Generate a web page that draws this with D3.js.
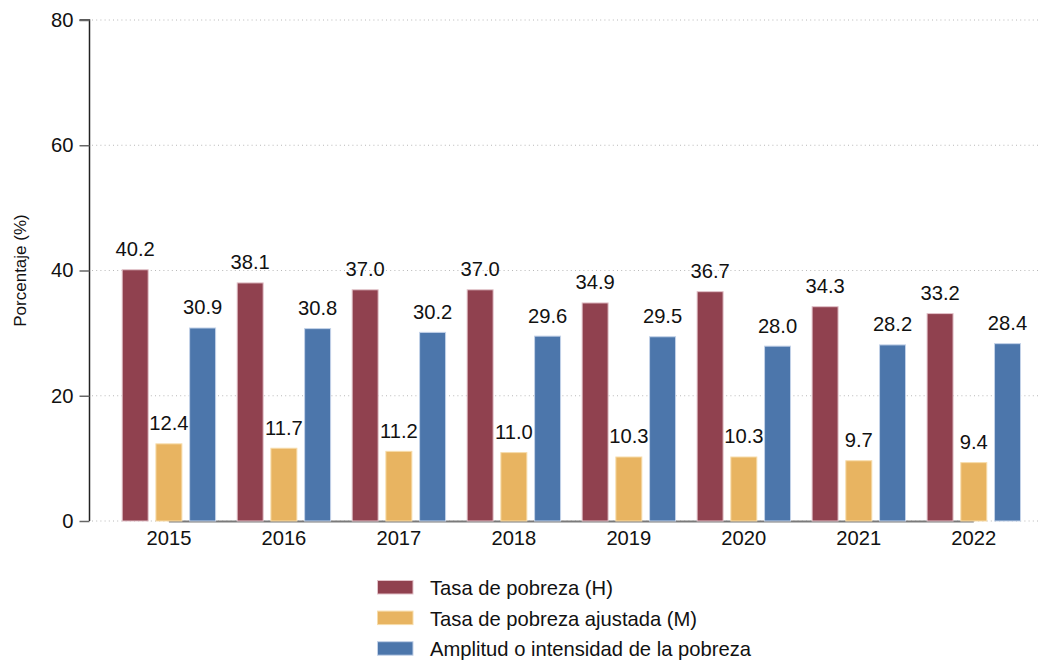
<!DOCTYPE html>
<html>
<head>
<meta charset="utf-8">
<script src="https://cdn.jsdelivr.net/npm/d3@7"></script>
<style>
  html, body { margin: 0; padding: 0; background: #fff; }
  svg { display: block; font-family: "Liberation Sans", Arial, Helvetica, sans-serif; }
</style>
</head>
<body>
<svg id="chart" width="1044" height="660"></svg>
<script>
const years = ["2015", "2016", "2017", "2018", "2019", "2020", "2021", "2022"];
const seriesNames = ["Tasa de pobreza (H)", "Tasa de pobreza ajustada (M)", "Amplitud o intensidad de la pobreza"];
const tasaH = [40.2, 38.1, 37.0, 37.0, 34.9, 36.7, 34.3, 33.2];
const tasaM = [12.4, 11.7, 11.2, 11.0, 10.3, 10.3, 9.7, 9.4];
const amplitud = [30.9, 30.8, 30.2, 29.6, 29.5, 28.0, 28.2, 28.4];
const yTicks = [0, 20, 40, 60, 80];
const fills = ["#90414f", "#e8b461", "#4c76ab"];
const strokes = ["#e2c2c9", "#f7dcaa", "#c3d2e8"];

const seriesValues = [tasaH, tasaM, amplitud];
const FS = 20.2;

const svg = d3.select("#chart");

const y = d3.scaleLinear().domain([0, 80]).range([521, 20]);
const x0 = d3.scaleBand().domain(years).range([121.7, 1021]).paddingInner(0.179).paddingOuter(0);
const x1 = d3.scaleBand().domain(d3.range(3)).range([0, x0.bandwidth()]).paddingInner(0.2).paddingOuter(0);

// gridlines
svg.append("g").selectAll("line").data(yTicks).join("line")
  .attr("x1", 92).attr("x2", 1040)
  .attr("y1", d => y(d)).attr("y2", d => y(d))
  .attr("stroke", "#b8b8b8").attr("stroke-width", 1)
  .attr("stroke-dasharray", "1,3.2");

// grey x axis line spanning group centers
svg.append("line")
  .attr("x1", x0(years[0]) + x0.bandwidth() / 2)
  .attr("x2", x0(years[years.length - 1]) + x0.bandwidth() / 2)
  .attr("y1", y(0) + 0.5).attr("y2", y(0) + 0.5)
  .attr("stroke", "#7a7a7a").attr("stroke-width", 2);

// bars
const groups = svg.append("g").selectAll("g").data(years).join("g")
  .attr("transform", d => `translate(${x0(d)},0)`);

groups.selectAll("rect").data((d, i) => seriesValues.map((s, k) => ({ k, v: s[i] }))).join("rect")
  .attr("x", d => x1(d.k) + 0.5)
  .attr("width", x1.bandwidth() - 1)
  .attr("y", d => y(d.v) + 0.5)
  .attr("height", d => y(0) - y(d.v) - 0.5)
  .attr("fill", d => fills[d.k])
  .attr("stroke", d => strokes[d.k])
  .attr("stroke-width", 1);

groups.selectAll("text").data((d, i) => seriesValues.map((s, k) => ({ k, v: s[i] }))).join("text")
  .attr("x", d => x1(d.k) + x1.bandwidth() / 2)
  .attr("y", d => y(d.v) - 13)
  .attr("text-anchor", "middle")
  .attr("font-size", FS)
  .attr("fill", "#111")
  .text(d => d.v.toFixed(1));

// y axis
const yAxis = d3.axisLeft(y).tickValues(yTicks).tickSize(10).tickPadding(6);
const gy = svg.append("g").attr("transform", "translate(89.5,0)").call(yAxis);
gy.select(".domain").attr("stroke", "#222").attr("stroke-width", 1.5).attr("d", `M-10,${y(80)}H0V${y(0)}`);
gy.selectAll(".tick line").attr("stroke", "#666").attr("stroke-width", 1.5);
gy.selectAll(".tick text").attr("font-size", FS).attr("fill", "#111").attr("font-family", "Liberation Sans, Arial, sans-serif");

// x axis labels
const xAxis = d3.axisBottom(x0).tickSize(0).tickPadding(10);
const gx = svg.append("g").attr("transform", `translate(0,${y(0)})`).call(xAxis);
gx.select(".domain").remove();
gx.selectAll(".tick text").attr("font-size", FS).attr("fill", "#111").attr("font-family", "Liberation Sans, Arial, sans-serif");

// y axis title
svg.append("text")
  .attr("transform", `translate(26,${(y(0) + y(80)) / 2}) rotate(-90)`)
  .attr("text-anchor", "middle")
  .attr("font-size", 17)
  .attr("fill", "#111")
  .text("Porcentaje (%)");

// legend
const legend = svg.append("g").selectAll("g").data(seriesNames).join("g")
  .attr("transform", (d, i) => `translate(377.5,${580.5 + i * 30.6})`);
legend.append("rect")
  .attr("width", 35.5).attr("height", 13.5)
  .attr("fill", (d, i) => fills[i])
  .attr("stroke", (d, i) => strokes[i]).attr("stroke-width", 1);
legend.append("text")
  .attr("x", 52.5).attr("y", 14.5)
  .attr("font-size", FS)
  .attr("fill", "#111")
  .text(d => d);
</script>
</body>
</html>
